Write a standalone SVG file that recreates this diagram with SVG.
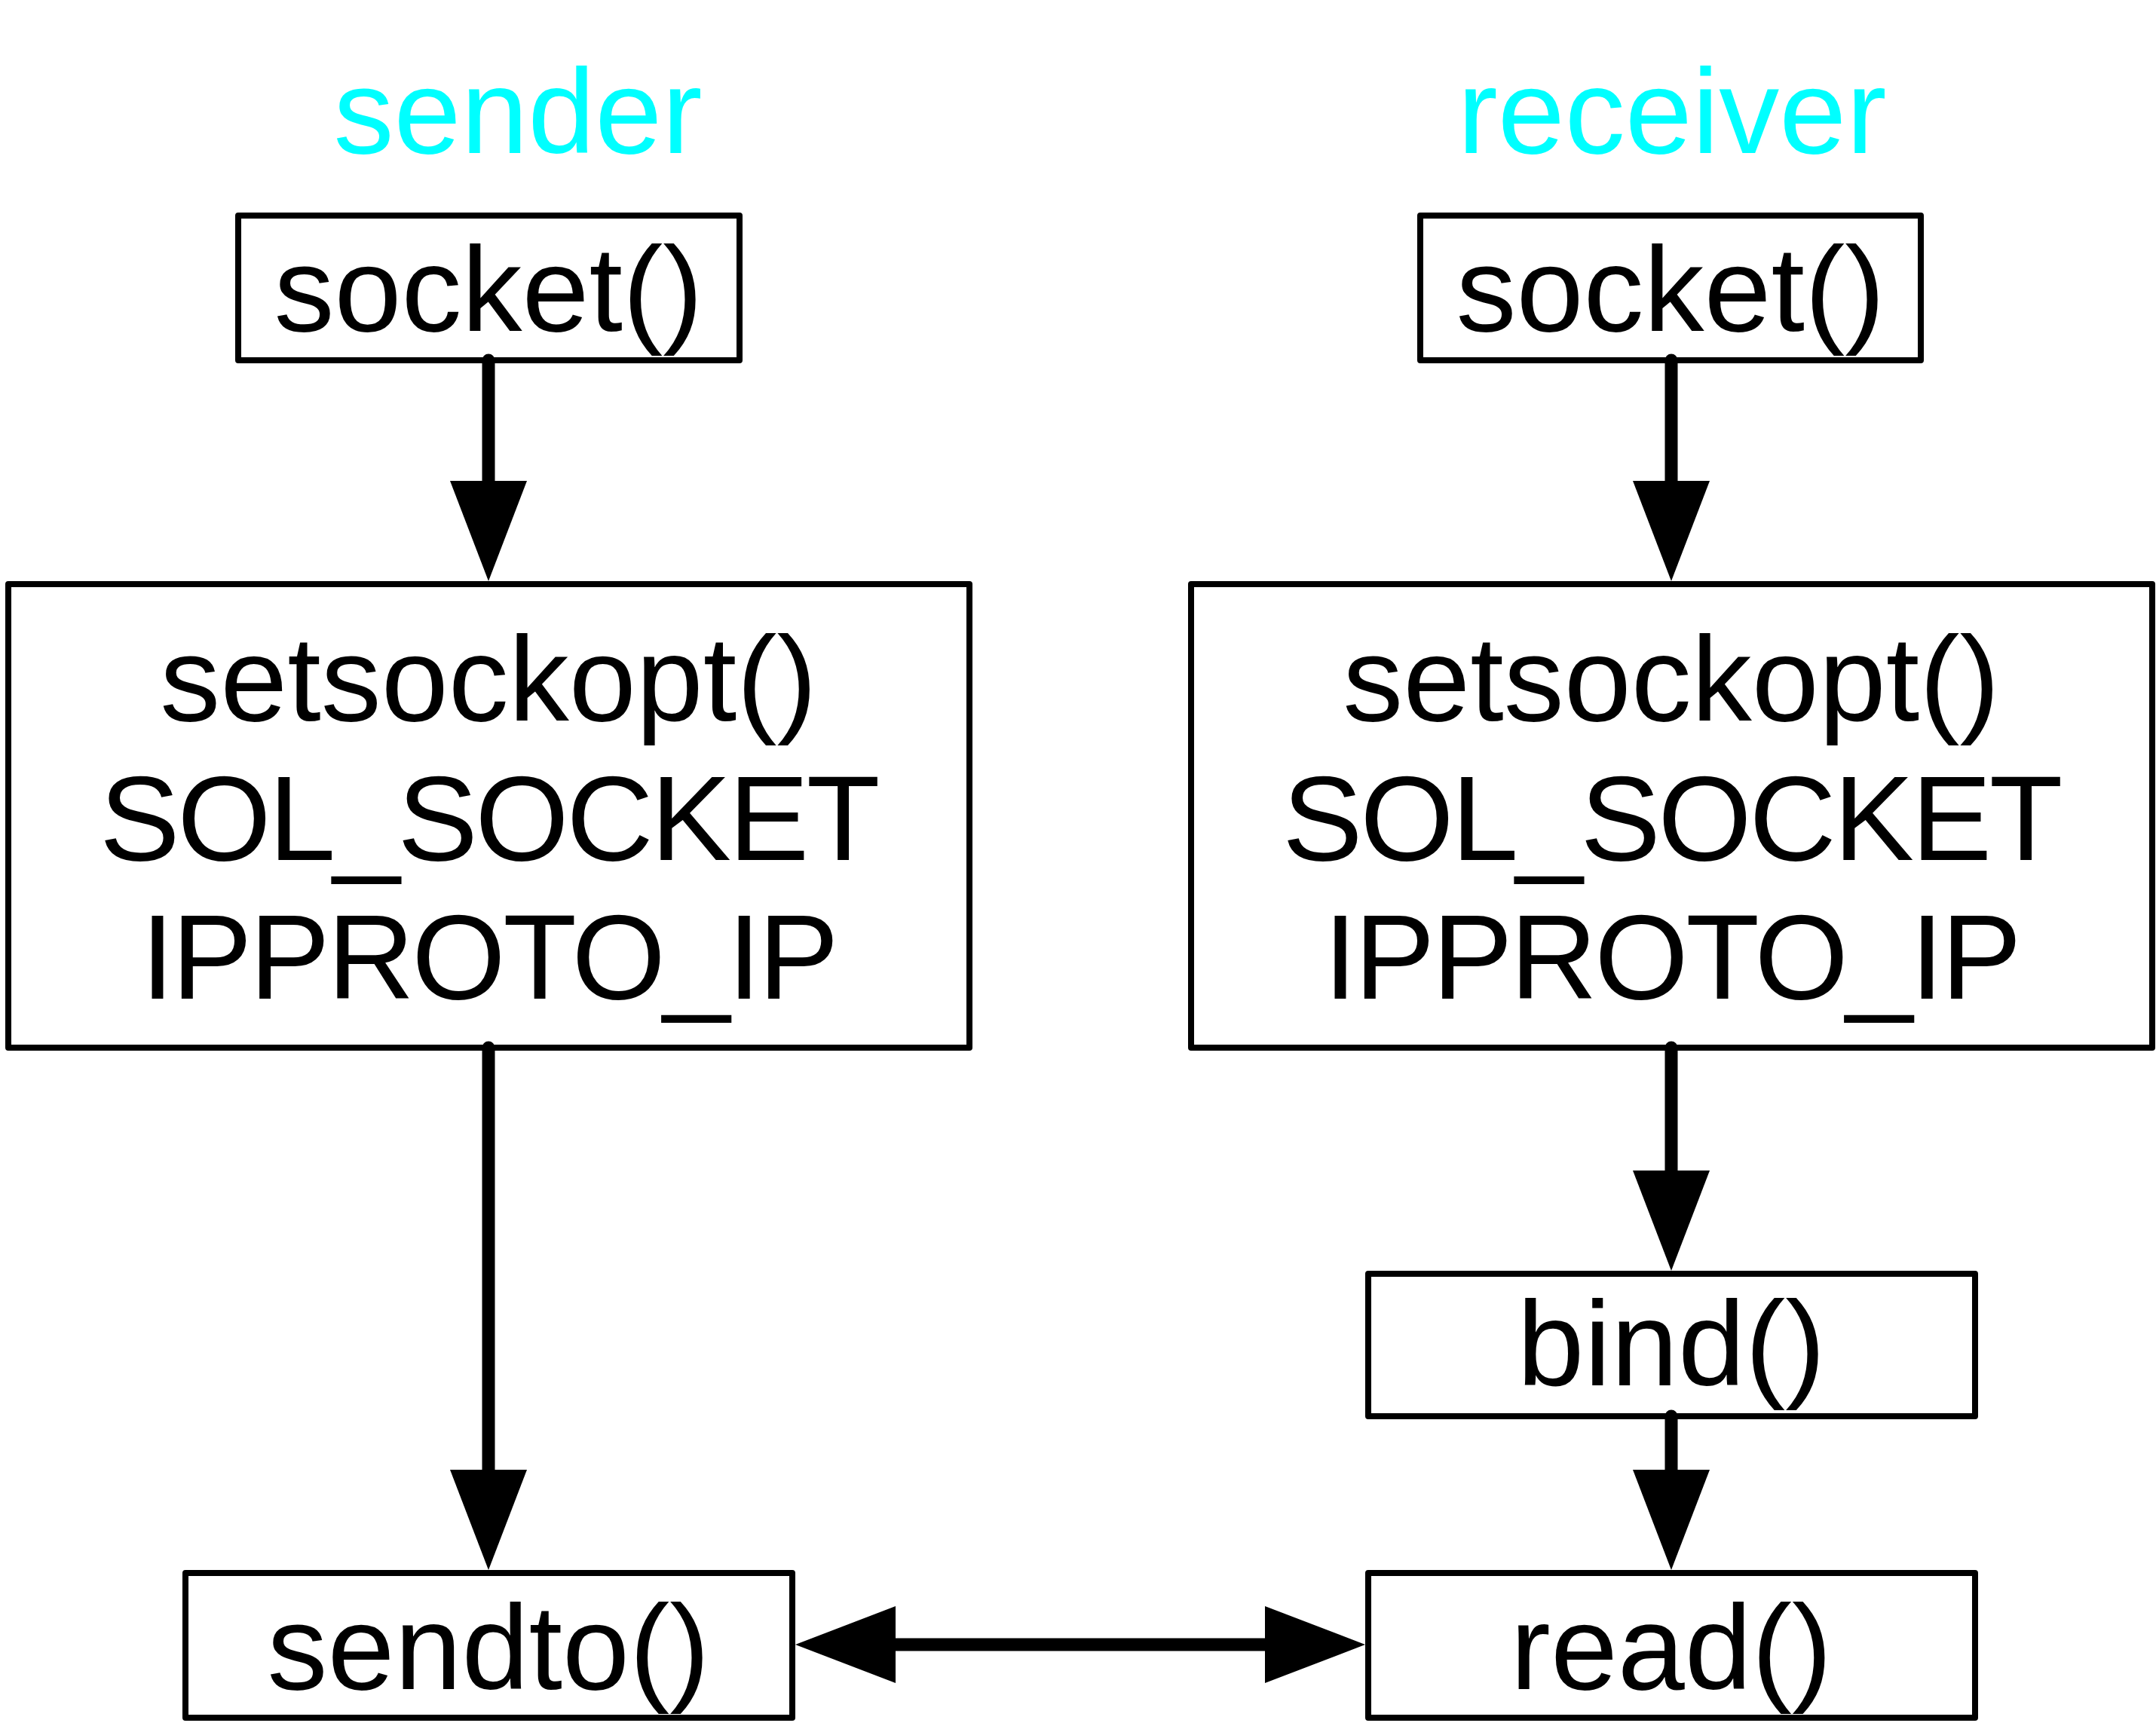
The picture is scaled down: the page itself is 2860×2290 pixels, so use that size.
<svg xmlns="http://www.w3.org/2000/svg" width="2860" height="2290" viewBox="0 0 2860 2290">
<style>
.box{fill:#fff;stroke:#000;stroke-width:8;stroke-linejoin:round}
.t{font-family:"Liberation Sans",Arial,Helvetica,sans-serif;font-size:160px;fill:#000;text-anchor:middle}
.caps{letter-spacing:-3.5px}
.title{fill:#00FFFF}
.conn{stroke:#000;stroke-width:17;fill:none;stroke-linecap:round}
</style>
<defs>
<marker id="ah" markerUnits="userSpaceOnUse" markerWidth="134" markerHeight="102" refX="0" refY="51" orient="auto-start-reverse" viewBox="0 0 134 102">
<path d="M0,0 L133,51 L0,102 Z" fill="#000"/>
</marker>
</defs>
<g id="titles">
<text class="t title" x="687" y="203">sender</text>
<text class="t title" x="2218" y="203">receiver</text>
</g>
<g id="sender-socket">
<rect class="box" x="316" y="286" width="665" height="192"/>
<text class="t" x="648" y="439">socket()</text>
</g>
<g id="receiver-socket">
<rect class="box" x="1884" y="286" width="664" height="192"/>
<text class="t" x="2216" y="439">socket()</text>
</g>
<g id="sender-setsockopt">
<rect class="box" x="11" y="775" width="1275" height="615"/>
<text class="t" x="648" y="956">setsockopt()</text>
<text class="t caps" x="648" y="1141">SOL_SOCKET</text>
<text class="t caps" x="648" y="1325">IPPROTO_IP</text>
</g>
<g id="receiver-setsockopt">
<rect class="box" x="1580" y="775" width="1275" height="615"/>
<text class="t" x="2217" y="956">setsockopt()</text>
<text class="t caps" x="2217" y="1141">SOL_SOCKET</text>
<text class="t caps" x="2217" y="1325">IPPROTO_IP</text>
</g>
<g id="bind">
<rect class="box" x="1815" y="1690" width="805" height="189"/>
<text class="t" x="2217" y="1838">bind()</text>
</g>
<g id="sendto">
<rect class="box" x="246" y="2087" width="805" height="192"/>
<text class="t" x="648" y="2241">sendto()</text>
</g>
<g id="read">
<rect class="box" x="1815" y="2087" width="805" height="192"/>
<text class="t" x="2217" y="2241">read()</text>
</g>
<g id="connectors">
<path class="conn" d="M648,478 L648,638" marker-end="url(#ah)"/>
<path class="conn" d="M2217,478 L2217,638" marker-end="url(#ah)"/>
<path class="conn" d="M648,1390 L648,1950" marker-end="url(#ah)"/>
<path class="conn" d="M2217,1390 L2217,1553" marker-end="url(#ah)"/>
<path class="conn" d="M2217,1879 L2217,1950" marker-end="url(#ah)"/>
<path class="conn" style="stroke-linecap:butt" d="M1188,2182 L1678,2182" marker-start="url(#ah)" marker-end="url(#ah)"/>
</g>
</svg>
